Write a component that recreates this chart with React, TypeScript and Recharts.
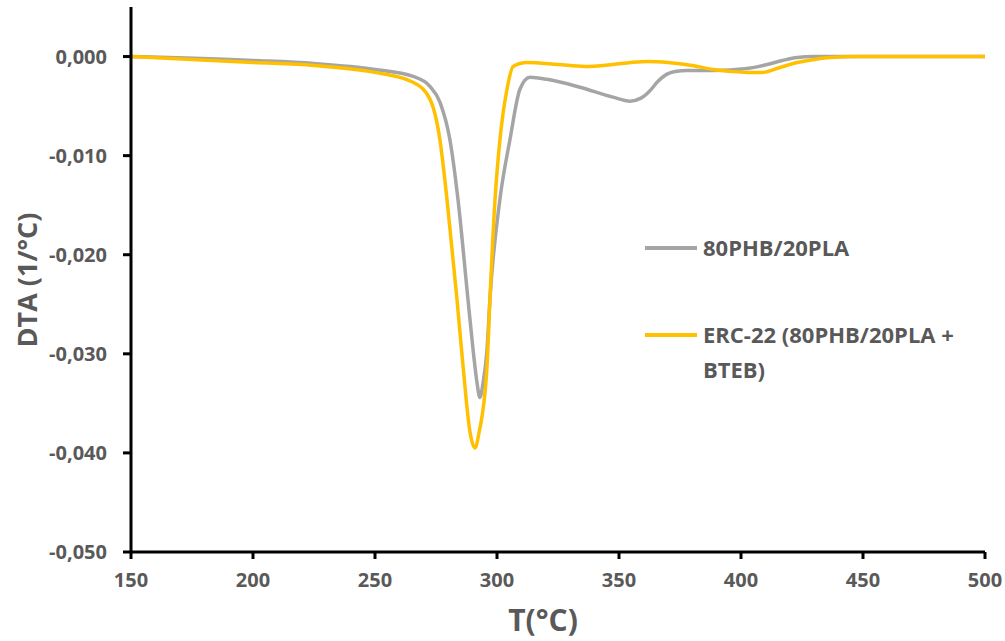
import { LineChart, Line, XAxis, YAxis, Label } from 'recharts';

// 80PHB/20PLA blend
const blendTemp = [150, 200, 225, 250, 265.6, 272.5, 276.6, 280.7, 284, 288.1, 290.2, 291.8, 293, 294.3, 295.9, 297.1, 301.2, 305.3, 309.4, 313.5, 320.5, 334, 347.5, 354.5, 359, 362.5, 366, 369.5, 373, 378, 388.5, 402.5, 410.7, 417, 423, 430, 436.5, 470, 500];
const blendDta = [0, -0.0004, -0.0007, -0.0013, -0.002, -0.003, -0.0046, -0.0084, -0.0144, -0.0245, -0.0296, -0.0329, -0.0344, -0.0329, -0.0296, -0.0245, -0.0144, -0.0084, -0.0033, -0.0021, -0.0023, -0.0031, -0.0041, -0.0045, -0.0042, -0.0035, -0.0025, -0.0018, -0.0015, -0.0014, -0.0014, -0.0012, -0.0008, -0.0004, -0.0001, 0, 0, 0, 0];

// ERC-22 (blend + BTEB)
const ercTemp = [150, 200, 225, 250, 265.6, 272.5, 276.6, 279.5, 283.6, 286.1, 289, 291, 292.6, 295.9, 297.1, 299.2, 301.2, 304.1, 306.6, 312.3, 325, 336, 347.5, 355, 362, 370, 380, 388.5, 396, 402.5, 409, 416, 423, 430, 436.5, 448.8, 500];
const ercDta = [0, -0.0006, -0.0009, -0.0016, -0.0026, -0.0043, -0.0084, -0.0144, -0.0245, -0.0313, -0.038, -0.0395, -0.038, -0.0313, -0.0245, -0.0144, -0.0084, -0.0033, -0.001, -0.0006, -0.0008, -0.001, -0.0008, -0.0006, -0.0005, -0.0006, -0.0009, -0.0013, -0.0015, -0.0016, -0.0016, -0.0011, -0.0006, -0.0003, -0.0001, 0, 0];

const xTicks = [150, 200, 250, 300, 350, 400, 450, 500];
const yTicks = [0, -0.01, -0.02, -0.03, -0.04, -0.05];

const SERIES = [
  { name: '80PHB/20PLA', color: '#A5A5A5', temp: blendTemp, dta: blendDta },
  { name: 'ERC-22 (80PHB/20PLA + BTEB)', color: '#FFC000', temp: ercTemp, dta: ercDta },
];

const FONT = 'Open Sans, sans-serif';
const TEXT = '#595959';

const fmtY = (v: number) => v.toFixed(3).replace('.', ',');

const YTitle = () => (
  <text
    x={26}
    y={280}
    transform='rotate(-90 26 280)'
    textAnchor='middle'
    dominantBaseline='central'
    fill={TEXT}
    fontSize={27}
    fontWeight={700}
    fontFamily={FONT}
  >
    DTA (1/°C)
  </text>
);

const XTitle = () => (
  <text
    x={543}
    y={619}
    textAnchor='middle'
    dominantBaseline='central'
    fill={TEXT}
    fontSize={30}
    fontWeight={700}
    fontFamily={FONT}
  >
    T(°C)
  </text>
);

const SeriesKey = () => (
  <div
    style={{
      position: 'absolute',
      left: 645,
      top: 230,
      fontFamily: FONT,
      fontWeight: 700,
      fontSize: 22,
      color: TEXT,
      lineHeight: '35px',
    }}
  >
    <div style={{ display: 'flex', alignItems: 'center', height: 35 }}>
      <div style={{ width: 52, height: 4, background: SERIES[0].color, marginRight: 6 }} />
      <span>{SERIES[0].name}</span>
    </div>
    <div style={{ display: 'flex', alignItems: 'flex-start', marginTop: 52 }}>
      <div style={{ width: 52, height: 4, background: SERIES[1].color, marginRight: 6, marginTop: 16 }} />
      <span style={{ width: 300 }}>
        ERC-22 (80PHB/20PLA +<br />BTEB)
      </span>
    </div>
  </div>
);

export default function App() {
  return (
    <div style={{ position: 'absolute', left: 0, top: 0, width: 1005, height: 641, background: '#fff' }}>
      <LineChart width={1005} height={641} margin={{ top: 7, right: 20, left: 0, bottom: 0 }}>
        <XAxis
          type='number'
          dataKey='t'
          domain={[150, 500]}
          ticks={xTicks}
          allowDuplicatedCategory={false}
          height={89}
          axisLine={{ stroke: '#000', strokeWidth: 3 }}
          tickLine={{ stroke: '#000', strokeWidth: 3 }}
          tickSize={7}
          tickMargin={14}
          tick={{ fill: TEXT, fontSize: 20, fontWeight: 700, fontFamily: FONT }}
        >
          <Label content={<XTitle />} />
        </XAxis>
        <YAxis
          type='number'
          dataKey='v'
          domain={[-0.05, 0.005]}
          ticks={yTicks}
          width={131}
          tickFormatter={fmtY}
          axisLine={{ stroke: '#000', strokeWidth: 3 }}
          tickLine={{ stroke: '#000', strokeWidth: 3 }}
          tickSize={8}
          tickMargin={16}
          tick={{ fill: TEXT, fontSize: 20, fontWeight: 700, fontFamily: FONT }}
        >
          <Label content={<YTitle />} />
        </YAxis>
        {SERIES.map((s) => (
          <Line
            key={s.name}
            name={s.name}
            data={s.temp.map((t, i) => ({ t, v: s.dta[i] }))}
            dataKey='v'
            type='monotone'
            stroke={s.color}
            strokeWidth={3.5}
            dot={false}
            activeDot={false}
            isAnimationActive={false}
          />
        ))}
      </LineChart>
      <SeriesKey />
    </div>
  );
}
